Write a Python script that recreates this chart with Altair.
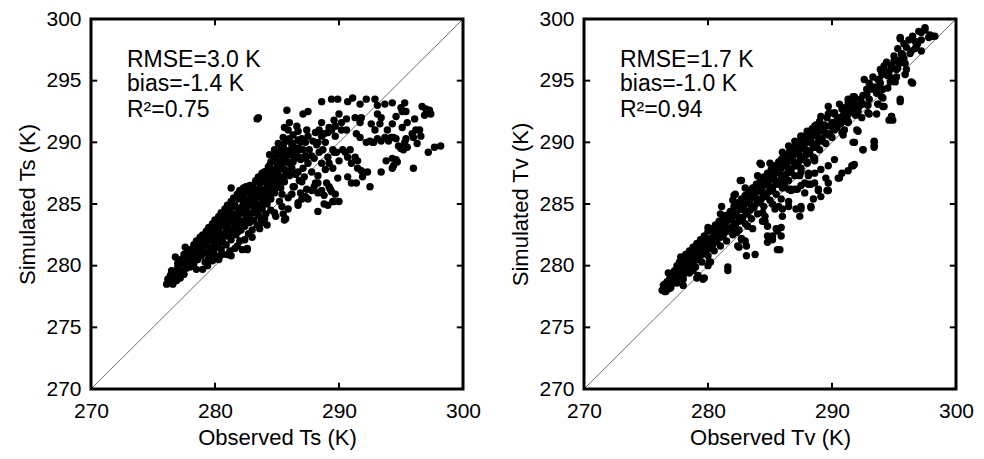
import altair as alt
import pandas as pd

# ---------------- data ----------------
axis_label_values_x = [270, 280, 290, 300]
axis_label_values_y = [270, 275, 280, 285, 290, 295, 300]
inner_ticks_x = [280, 290]
inner_ticks_y = [275, 280, 285, 290, 295]
diag = [270, 300]

ts_stats = ["RMSE=3.0 K", "bias=-1.4 K", "R\u00b2=0.75"]
tv_stats = ["RMSE=1.7 K", "bias=-1.0 K", "R\u00b2=0.94"]

# Panel 1: observed Ts vs simulated Ts
ts_band = [
(276.1,278.5),(276.2,278.9),(276.3,278.6),(276.4,279.2),(276.5,278.8),(276.5,279.6),(276.6,278.5),(276.7,279.1),
(276.8,279.5),(276.9,278.8),(277.0,279.3),(277.0,279.9),(277.2,279.0),(277.3,279.6),(277.4,280.2),(277.5,279.3),
(277.6,280.6),(277.7,279.8),(277.8,280.3),(277.9,281.0),(278.0,279.9),(278.1,280.6),(278.2,281.4),(278.3,280.2),
(278.4,280.9),(278.5,281.7),(278.6,280.5),(278.7,281.2),(278.8,282.0),(278.9,280.8),(279.0,281.5),(279.1,282.3),
(279.2,280.3),(279.2,281.1),(279.3,281.8),(279.4,282.6),(279.5,280.6),(279.6,281.4),(279.6,282.1),(279.7,282.9),
(279.8,281.0),(279.9,281.7),(280.0,282.4),(280.0,283.3),(280.1,280.8),(280.2,281.5),(280.3,282.1),(280.3,282.8),
(280.4,283.6),(280.5,281.3),(280.6,282.0),(280.7,282.6),(280.7,283.3),(280.8,284.1),(280.9,281.7),(281.0,280.9),
(281.0,282.4),(281.1,283.0),(281.1,283.8),(281.2,284.5),(281.3,282.1),(281.3,286.3),(281.4,282.8),(281.5,283.5),
(281.5,284.2),(281.6,281.4),(281.6,284.9),(281.7,282.5),(281.8,283.2),(281.8,283.9),(281.9,284.6),(281.9,285.4),
(282.0,282.0),(282.1,282.9),(282.1,283.6),(282.2,281.3),(282.2,284.3),(282.3,285.0),(282.3,285.8),(282.4,283.2),
(282.5,283.9),(282.5,284.6),(282.6,281.4),(282.6,285.3),(282.7,286.1),(282.7,282.6),(282.8,283.5),(282.8,284.2),
(282.9,284.9),(282.9,285.7),(283.0,286.5),(283.0,282.9),(283.1,283.7),(283.2,284.5),(283.2,285.2),(283.3,285.9),
(283.3,286.8),(283.4,283.3),(283.5,284.1),(283.5,284.9),(283.6,285.6),(283.6,286.3),(283.7,287.1),(283.7,283.8),
(283.8,284.6),(283.9,285.3),(283.9,286.0),(284.0,286.8),(284.0,287.6),(284.1,284.2),(284.2,285.0),(284.2,285.8),
(284.3,286.5),(284.3,287.3),(284.4,288.1),(284.4,289.0),(284.5,284.5),(284.5,285.4),(284.6,286.2),(284.6,287.0),
(284.7,287.8),(284.7,288.6),(284.8,289.4),(284.8,285.9),(284.9,286.7),(285.0,287.5),(285.0,288.3),(285.1,289.1),
(285.1,289.9),(285.2,285.2),(285.3,286.3),(285.3,287.2),(285.4,288.0),(285.4,288.8),(285.5,289.6),(285.5,290.4),
(285.6,286.8),(285.7,287.7),(285.7,288.5),(285.8,289.3),(285.8,290.1),(285.9,291.0),(285.9,284.6),(286.0,287.3),
(286.1,288.2),(286.1,289.0),(286.2,289.8),(286.3,290.6),(286.4,288.7),(286.5,289.5),(286.6,291.3),(286.7,290.2),
(286.8,288.8),
(279.5,280.4),(280.3,280.5),(281.3,280.8),(282.6,281.3),(278.5,279.7),(277.6,281.5),(276.8,280.7),
]

ts_band_fill = [
(277.0,280.2),(277.3,280.5),(277.5,280.9),(277.8,281.2),(278.0,281.3),(278.3,281.7),(278.5,282.0),(278.8,282.3),
(279.0,282.5),(279.3,282.8),(279.5,283.1),(279.8,283.4),(280.0,283.7),(280.3,284.0),(280.5,284.3),(280.8,284.6),
(281.0,284.9),(281.3,285.2),(281.5,285.5),(281.8,285.8),(282.0,286.1),(282.3,286.3),(282.5,286.4),(282.8,286.5),
(283.0,286.5),(283.3,286.9),(283.5,287.2),(283.8,287.5),(284.0,287.6),(284.3,288.0),(284.5,288.4),(284.8,288.8),
(285.0,289.0),(285.3,289.4),(285.5,289.8),(285.8,290.2),(286.0,290.3),
(277.6,280.3),(278.1,280.8),(278.6,281.5),(279.1,282.0),(279.6,282.6),(280.1,283.1),(280.6,283.8),(281.1,284.3),
(281.6,284.8),(282.1,285.5),(282.6,285.9),(283.1,286.2),(283.6,286.7),(284.1,287.2),(284.6,287.6),(285.1,288.2),
(285.6,288.7),(286.1,289.4),
(279.0,279.7),(279.4,280.0),(279.8,280.4),(280.2,280.6),(280.6,280.9),(281.2,281.2),(281.8,281.6),(282.4,282.1),
(283.0,282.3),(283.6,283.0),(284.2,283.3),(284.8,284.3),(285.4,284.8),
(280.2,282.7),(280.4,283.2),(280.6,282.5),(280.9,283.0),(281.1,283.5),(281.4,284.0),(281.7,283.4),(281.9,284.1),
(282.2,284.8),(282.4,285.3),(282.6,284.4),(282.8,285.0),(283.0,285.5),(283.2,286.0),(283.4,285.0),(283.5,285.6),
(283.7,286.2),(283.9,286.8),(284.1,285.6),(284.2,286.3),(284.4,286.9),(284.5,287.5),(284.7,286.4),(284.9,287.1),
(285.1,287.7),(285.2,288.4),(285.4,287.0),(285.6,287.8),(285.8,288.4),(285.9,289.0),(286.1,287.6),(286.3,288.4),
(286.5,288.9),(286.7,289.5),(286.9,290.0),(287.1,289.4),(287.3,290.0),
(281.2,282.6),(281.5,283.0),(281.9,282.8),(282.3,283.5),(282.7,283.9),(283.1,284.3),(283.4,284.6),(283.8,285.1),
(284.1,285.4),(284.4,285.8),(284.8,286.2),(285.1,286.6),(285.5,287.2),(285.8,287.6),
(278.9,281.3),(279.2,281.7),(279.5,282.2),(279.8,282.5),(280.0,282.0),(279.4,281.0),(279.9,281.3),(280.5,281.9),
]

ts_scatter = [
(285.8,292.6),(287.1,292.3),(287.5,292.5),(288.6,293.3),(289.4,293.5),(289.9,293.5),(290.7,293.3),(291.1,293.6),
(291.7,293.1),(292.2,293.5),(292.9,293.5),(293.1,293.0),(293.7,293.1),(294.3,293.2),(295.3,293.2),(295.4,292.5),
(295.1,292.5),(296.7,292.9),(297.3,292.6),(296.9,292.2),(297.4,292.3),(297.0,292.7),(297.2,292.4),(296.1,291.9),
(295.5,291.6),(295.1,291.2),(295.9,290.7),(296.5,291.0),(296.3,289.9),(295.3,290.0),(295.0,289.5),(295.5,289.6),
(295.4,290.3),(294.6,290.3),(294.2,290.4),(293.7,290.4),(293.1,290.3),(292.7,290.0),(292.2,290.0),(293.9,291.0),
(294.3,291.5),(293.3,291.5),(292.6,291.5),(292.9,291.0),(293.1,292.3),(293.4,292.0),(291.8,292.0),(291.7,291.6),
(291.3,292.0),(290.6,291.9),(290.0,292.3),(290.2,291.6),(289.6,291.8),(289.2,291.2),(289.4,291.0),(288.6,291.6),
(288.4,291.0),(288.8,290.7),(290.6,291.0),(291.4,290.7),(291.7,290.4),(297.7,289.6),(298.2,289.7),(297.2,289.2),
(296.0,287.9),(294.3,288.7),(294.7,288.4),(294.3,287.9),(293.8,288.5),(293.4,287.6),(292.3,287.6),(292.5,286.4),
(291.9,287.2),(291.8,287.7),(291.5,287.9),(291.0,288.3),(291.3,288.8),(290.7,288.8),(290.5,289.2),(290.9,289.4),
(291.5,288.5),(291.4,286.7),(291.0,286.7),(290.7,287.2),(289.9,287.1),(289.5,287.9),(289.2,288.3),(289.1,288.8),
(290.0,288.5),(289.6,289.2),(289.2,286.4),(289.4,286.0),(288.8,285.7),(288.3,286.7),(288.6,286.1),(287.8,286.1),
(287.5,285.4),(287.0,285.4),(286.7,284.9),(288.8,285.0),(289.1,284.9),(289.6,285.2),(290.0,285.2),(288.3,284.4),
(287.8,287.6),(287.5,288.3),(288.0,288.7),(288.4,289.2),(287.0,286.8),(287.2,287.2),(286.7,287.6),(286.3,286.4),
(286.2,285.8),(285.5,284.2),(285.6,283.7),
(283.5,292.0),(283.4,291.9),(284.9,284.0),(284.0,283.8),(283.8,283.5),(285.7,283.8),
(285.3,289.3),(285.6,288.9),(285.9,288.4),(286.2,287.9),(286.5,287.4),(286.8,286.9),(287.1,287.9),(286.9,288.6),
(286.6,289.2),(286.3,289.9),(287.3,288.9),(287.6,289.4),(287.0,290.3),(286.7,290.9),(287.9,290.1),(288.2,289.8),
(287.4,291.0),(286.0,291.6),(285.6,291.2),(286.4,286.4),(285.4,285.8),(285.9,285.5),(286.9,285.9),(287.4,286.2),
(288.0,286.4),
(295.0,292.8),(294.6,292.1),(296.2,291.0),(296.6,290.5),(296.0,290.4),(295.2,289.4),(294.8,289.7),(294.4,288.1),
(294.6,288.6),(293.4,290.1),(294.0,290.1),(294.4,290.4),(292.8,290.0),(292.5,290.1),(288.6,288.3),(288.9,287.8),
(288.3,287.3),(288.1,286.7),(288.3,285.9),(289.0,286.7),(289.3,286.2),(289.7,285.8),(289.5,285.2),(287.3,285.6),
(286.7,285.1),(287.3,288.7),(287.8,288.9),(288.7,289.4),(289.5,289.4),(289.8,289.2),(290.3,289.4),(290.2,291.0),
(289.7,291.3),(288.1,290.8),(288.6,290.5),(289.1,290.8),(289.7,290.5),(287.5,290.5),(288.3,290.0),(288.9,290.0),
]

# Panel 2: observed Tv vs simulated Tv
tv_band = [
(276.3,278.0),(276.4,278.4),(276.5,277.9),(276.6,278.3),(276.7,278.7),(276.8,278.1),(276.9,278.9),(277.0,278.5),
(277.1,279.3),(277.2,278.8),(277.3,279.6),(277.4,279.1),(277.5,280.0),(277.6,279.4),(277.7,280.3),(277.8,279.7),
(277.9,280.6),(278.0,279.2),(278.1,280.1),(278.2,280.9),(278.3,279.8),(278.4,280.5),(278.5,281.2),(278.6,280.1),
(278.7,280.8),(278.8,281.5),(278.9,280.4),(279.0,281.1),(279.1,281.8),(279.2,280.6),(279.3,281.4),(279.4,282.1),
(279.5,280.9),(279.6,281.7),(279.7,282.4),(279.8,281.2),(279.9,282.0),(280.0,282.8),(280.1,281.4),(280.2,282.2),
(280.3,283.0),(280.4,281.7),(280.5,282.5),(280.6,283.3),(280.7,282.0),(280.8,282.8),(280.9,283.6),(281.0,282.3),
(281.1,283.1),(281.2,283.9),(281.3,282.6),(281.4,283.4),(281.5,284.1),(281.6,282.8),(281.7,283.7),(281.8,284.4),
(281.9,283.1),(282.0,284.0),(282.1,284.8),(282.2,283.4),(282.3,284.3),(282.4,285.1),(282.5,283.6),(282.6,284.6),
(282.7,285.4),(282.8,283.9),(282.9,284.9),(283.0,285.7),(283.1,284.2),(283.2,285.2),(283.3,286.0),(283.4,284.5),
(283.5,285.5),(283.6,286.3),(283.7,284.8),(283.8,285.8),(283.9,286.6),(284.0,285.1),(284.1,286.1),(284.2,286.9),
(284.3,285.4),(284.4,286.4),(284.5,287.2),(284.6,285.7),(284.7,286.7),(284.8,287.5),(284.9,286.0),(285.0,287.0),
(285.1,287.8),(285.2,286.3),(285.3,287.3),(285.4,288.1),(285.5,286.6),(285.6,287.6),(285.7,288.4),(285.8,286.9),
(285.9,287.9),(286.0,288.7),(286.1,287.2),(286.2,288.2),(286.3,289.0),(286.4,287.5),(286.5,288.5),(286.6,289.3),
(286.7,287.8),(286.8,288.8),(286.9,289.6),(287.0,288.1),(287.1,289.1),(287.2,289.9),(287.3,288.4),(287.4,289.4),
(287.5,290.2),(287.6,288.7),(287.7,289.7),(287.8,290.5),(287.9,289.0),(288.0,290.0),(288.1,290.8),(288.2,289.3),
(288.3,290.3),(288.4,291.1),(288.5,289.6),(288.6,290.6),(288.7,291.4),(288.8,289.9),(288.9,290.9),(289.0,291.7),
(289.2,290.3),(289.4,291.2),(289.6,292.0),(289.8,290.7),(290.0,291.6),(290.2,292.3),(290.4,291.2),(290.6,292.0),
(290.9,292.8),(291.1,291.7),(291.3,292.5),(291.6,293.3),(291.9,292.2),(292.2,293.0),(292.5,293.8),
(287.5,287.6),(288.0,288.3),(288.6,288.7),
]

tv_band_fill = [
(277.0,278.2),(277.5,278.6),(278.0,278.9),(278.5,279.4),(279.0,279.9),(279.5,280.3),(280.0,280.8),(280.5,281.2),
(281.0,281.6),(281.5,282.0),(282.0,282.5),(282.5,282.9),(283.0,283.4),(283.5,283.8),(284.0,284.2),(284.5,284.8),
(285.0,285.3),(285.5,285.8),(286.0,286.3),(286.5,286.9),(287.0,287.3),(287.5,287.9),(288.0,288.4),(288.5,288.8),
(289.0,289.4),(289.5,289.9),(290.0,290.4),
(277.2,278.6),(277.7,279.1),(278.2,279.6),(278.7,280.0),(279.2,280.5),(279.7,281.0),(280.2,281.5),(280.7,282.0),
(281.2,282.4),(281.7,282.9),(282.2,283.3),(282.7,283.8),(283.2,284.2),(283.7,284.7),(284.2,285.1),(284.7,285.6),
(285.2,286.1),(285.7,286.6),(286.2,287.1),(286.7,287.6),(287.2,288.1),(287.7,288.6),(288.2,289.1),(288.7,289.6),
(289.2,290.1),(289.7,290.6),(290.2,291.0),(290.7,291.5),(291.2,292.0),(291.7,292.5),(292.2,292.9),
(280.0,283.1),(281.0,284.2),(282.0,285.3),(283.0,286.3),(284.0,287.3),(285.0,288.3),(286.0,289.2),(287.0,290.1),
(288.0,290.9),
(278.3,280.4),(278.9,281.0),(279.4,281.5),(279.9,281.6),(280.4,282.1),(280.9,282.9),(281.4,283.0),(281.9,283.7),
(282.4,284.0),(282.9,284.5),(283.4,285.0),(283.9,285.4),(284.4,285.9),(284.9,286.5),(285.4,286.9),(285.9,287.4),
(286.4,288.0),(286.9,288.4),(287.4,288.9),(287.9,289.4),(288.4,289.9),(288.9,290.4),(289.4,290.8),(289.9,291.3),
(290.4,291.8),(290.9,292.2),(291.4,292.8),(291.9,293.0),(292.3,293.5),
(292.8,293.9),(293.2,294.3),(293.0,294.8),(293.3,295.3),(293.9,295.9),(294.4,296.5),(294.6,295.7),(294.9,295.2),
(295.3,296.0),(295.0,297.0),(295.3,297.6),(296.0,297.7),(296.2,298.3),(296.5,298.6),(297.0,299.0),(293.9,294.8),
(292.9,293.0),(292.4,292.0),
]

tv_scatter = [
(279.2,279.2),(279.6,278.9),(278.8,279.6),(278.0,278.4),(280.0,280.0),(280.2,280.3),(281.6,279.9),(281.6,279.6),
(282.5,281.5),(283.1,281.6),(283.1,280.8),(283.8,280.9),(282.7,282.1),(282.3,282.7),(283.2,283.2),(283.6,283.0),
(279.1,279.0),(279.7,279.0),(280.1,280.3),(282.4,281.6),(283.0,282.0),(282.7,282.2),
(285.8,281.3),(285.2,282.1),(284.8,282.4),(285.6,282.8),(285.9,283.1),(284.8,283.2),(284.4,283.6),(284.6,284.0),
(285.4,284.6),(285.7,284.8),(285.9,285.4),(286.5,285.2),(287.1,284.6),(287.5,284.8),(288.3,284.7),(286.7,286.2),
(287.2,286.2),(288.1,286.6),(288.6,286.7),(288.1,287.5),(288.9,286.1),(289.1,285.6),(289.7,286.1),(289.7,286.7),
(289.5,287.1),(290.5,287.1),(290.8,287.5),(291.3,287.7),(291.6,288.1),(291.8,288.2),(289.7,288.1),(289.1,287.8),
(288.6,288.5),(290.2,288.6),(291.7,290.0),(292.5,289.4),(293.4,289.7),(293.4,290.0),
(287.5,286.5),(288.1,287.3),(288.6,287.5),(287.8,285.9),(286.7,286.1),(287.0,286.2),(288.9,286.2),(289.6,286.1),
(290.6,287.1),(291.7,288.1),(292.1,290.9),(291.8,290.0),(291.3,291.7),(291.3,292.3),(288.5,285.4),(288.3,284.8),
(287.5,284.6),(287.4,284.0),(286.5,284.8),(286.0,284.6),(286.0,284.0),(285.2,285.0),(285.5,283.0),(285.2,282.4),
(284.8,281.9),(285.9,282.4),(285.6,281.3),(284.6,283.6),(284.4,284.3),(286.5,286.2),(286.2,286.7),(287.8,286.7),
(288.3,286.6),(287.4,287.3),
(297.5,299.1),(297.8,298.5),(297.2,298.3),(296.9,298.0),(298.3,298.6),(295.5,298.4),(296.7,297.6),(296.4,297.4),
(297.2,297.4),(295.7,297.1),(295.5,296.7),(295.9,296.4),(295.0,296.6),(294.8,296.2),(294.2,296.0),(295.2,295.9),
(294.1,295.5),(294.5,295.4),(293.8,295.1),(293.7,294.5),(294.1,294.3),(293.6,294.0),(294.0,293.7),(292.6,295.1),
(296.5,294.8),(295.5,293.3),(294.2,292.9),(293.7,293.1),(293.0,292.3),(293.6,292.3),(294.8,292.1),(294.6,291.8),
(291.8,293.7),(291.3,293.5),(291.6,292.9),(292.4,293.1),(292.1,292.5),(291.3,292.3),(291.3,291.6),(292.0,291.0),
(290.9,290.6),(291.8,290.0),(293.4,290.1),(293.4,289.6),(292.5,289.4),
(297.9,298.7),(297.2,298.9),(296.7,298.2),(296.8,297.8),(296.3,297.2),(295.6,297.2),(295.8,296.8),(295.4,296.4),
(294.8,296.0),(294.2,296.2),(294.0,295.6),(293.7,295.1),(293.4,294.5),(293.6,294.0),(294.0,294.3),(294.5,294.4),
(294.7,294.9),(295.2,295.3),(295.9,295.5),(296.0,295.9),(295.1,294.9),(294.1,293.6),(293.0,293.5),(292.5,293.1),
(291.8,293.5),(291.6,292.7),(291.0,291.8),(290.2,292.4),(289.8,292.4),(289.7,292.9),(289.1,292.1),(289.4,291.4),
(288.6,291.3),(288.3,290.5),(287.5,290.5),(287.4,290.0),(287.0,289.4),(286.7,288.6),(285.9,288.1),(285.4,287.5),
(284.3,288.2),(282.7,286.9),(282.2,285.8),(281.1,284.8),(277.8,280.7),(276.8,279.4),(276.4,278.1),(276.6,277.9),
(276.9,278.2),(276.5,278.5),(277.2,278.8),(277.6,279.2),
(292.9,292.4),(292.4,293.2),(291.3,293.2),(290.8,292.7),(290.5,291.8),(290.2,291.6),(290.8,290.8),(291.0,291.0),
(292.8,294.3),(294.8,292.1),(294.9,291.8),(294.1,292.9),(293.7,293.1),(295.5,293.5),(296.4,294.9),(295.5,298.5),
(295.8,298.0),(297.5,299.3),(298.1,298.6),
(284.2,288.3),(282.1,285.7),(282.6,286.9),(291.7,293.7),(290.6,293.1),(289.7,292.3),(289.1,291.4),(287.5,290.5),
(286.5,289.7),(285.9,288.6),
]

# ---------------- chart ----------------
FONT = "Liberation Sans"
W, H = 372, 370
TICK_LEN = 0.5


def panel(point_lists, xtitle, ytitle, stats):
    pts = pd.DataFrame([p for lst in point_lists for p in lst], columns=["obs", "sim"])
    sc = alt.Scale(domain=[270, 300], nice=False, zero=False)
    xaxis = alt.Axis(values=axis_label_values_x, title=xtitle, format="d",
                     labelFlush=False, labelOverlap=False, labelPadding=11,
                     titlePadding=6, ticks=False, tickSize=0, domain=False, grid=False)
    yaxis = alt.Axis(values=axis_label_values_y, title=ytitle, format="d",
                     labelFlush=False, labelOverlap=False, labelPadding=10,
                     titlePadding=6, ticks=False, tickSize=0, domain=False, grid=False)

    def X(f):
        return alt.X(f, type="quantitative", scale=sc, axis=xaxis)

    def Y(f):
        return alt.Y(f, type="quantitative", scale=sc, axis=yaxis)

    points = alt.Chart(pts).mark_circle(size=55, color="black", opacity=1).encode(
        x=X("obs"), y=Y("sim"))

    line = alt.Chart(pd.DataFrame({"obs": diag, "sim": diag})).mark_line(
        color="#6e6e6e", strokeWidth=1).encode(x=X("obs"), y=Y("sim"))

    frame = alt.Chart(pd.DataFrame({"k": [0]})).mark_rect(
        filled=False, color="black", stroke="black", strokeWidth=3).encode(
        x=alt.XDatum(270, type="quantitative", scale=sc, axis=xaxis),
        x2=alt.X2Datum(300),
        y=alt.YDatum(270, type="quantitative", scale=sc, axis=yaxis),
        y2=alt.Y2Datum(300))

    tx = pd.DataFrame({"v": inner_ticks_x})
    ty = pd.DataFrame({"v": inner_ticks_y})
    rule = dict(color="black", strokeWidth=2)
    t_bottom = alt.Chart(tx).mark_rule(**rule).encode(
        x=X("v"), y=alt.YDatum(270, type="quantitative", scale=sc, axis=yaxis),
        y2=alt.Y2Datum(270 + TICK_LEN))
    t_top = alt.Chart(tx).mark_rule(**rule).encode(
        x=X("v"), y=alt.YDatum(300, type="quantitative", scale=sc, axis=yaxis),
        y2=alt.Y2Datum(300 - TICK_LEN))
    t_left = alt.Chart(ty).mark_rule(**rule).encode(
        y=Y("v"), x=alt.XDatum(270, type="quantitative", scale=sc, axis=xaxis),
        x2=alt.X2Datum(270 + TICK_LEN))
    t_right = alt.Chart(ty).mark_rule(**rule).encode(
        y=Y("v"), x=alt.XDatum(300, type="quantitative", scale=sc, axis=xaxis),
        x2=alt.X2Datum(300 - TICK_LEN))

    def txt(s, x, y, size):
        return alt.Chart(pd.DataFrame({"t": [s]})).mark_text(
            align="left", baseline="alphabetic", font=FONT, fontSize=size,
            color="black").encode(text="t:N", x=alt.value(x), y=alt.value(y))

    x0 = 36
    texts = [
        txt(stats[0], x0, 47.5, 23),
        txt(stats[1], x0, 71.5, 23),
        txt(stats[2], x0, 98, 23),
    ]
    return alt.layer(line, points, frame, t_bottom, t_top, t_left, t_right, *texts).properties(
        width=W, height=H)


left = panel([ts_band, ts_band_fill, ts_scatter], "Observed Ts (K)", "Simulated Ts (K)", ts_stats)
right = panel([tv_band, tv_band_fill, tv_scatter], "Observed Tv (K)", "Simulated Tv (K)", tv_stats)

chart = alt.hconcat(left, right, spacing=28).configure_view(
    strokeWidth=0
).configure_axis(
    labelFont=FONT, titleFont=FONT, labelFontSize=21, titleFontSize=22,
    labelColor="black", titleColor="black", titleFontWeight="normal"
).properties(
    padding={"left": 16, "top": 8, "right": 5, "bottom": 5},
    background="white"
)

chart.save("out.html", embed_options={"renderer": "svg", "actions": False})
